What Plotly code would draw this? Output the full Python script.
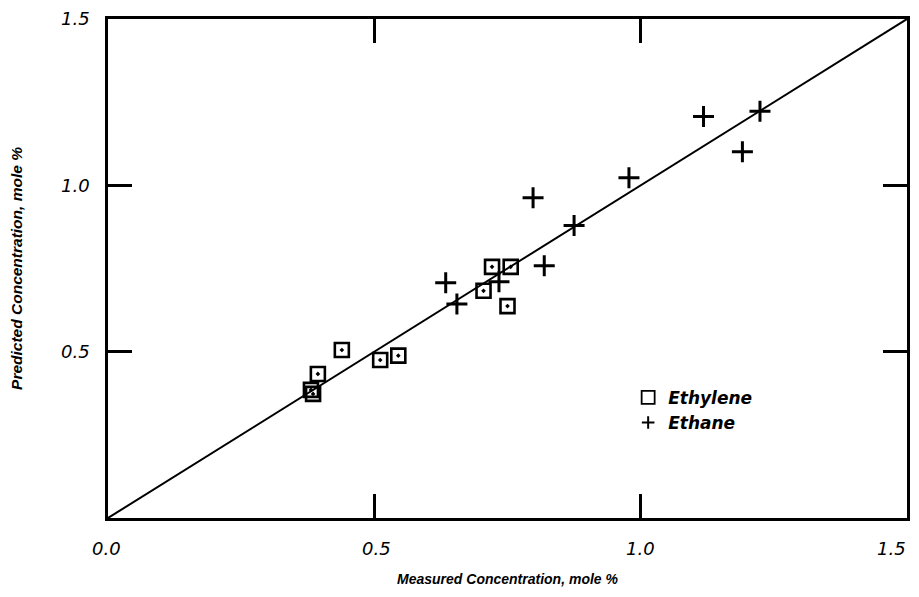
import plotly.graph_objects as go

# Ethylene (squares)
ethylene_measured = [0.381, 0.385, 0.394, 0.439, 0.511, 0.545, 0.705, 0.721, 0.756, 0.750]
ethylene_predicted = [0.385, 0.373, 0.433, 0.505, 0.475, 0.488, 0.683, 0.755, 0.755, 0.637]

# Ethane (crosses)
ethane_measured = [0.634, 0.655, 0.734, 0.798, 0.819, 0.875, 0.978, 1.118, 1.191, 1.224]
ethane_predicted = [0.707, 0.643, 0.710, 0.963, 0.758, 0.879, 1.023, 1.207, 1.101, 1.223]

# parity line
parity_x = [0.0, 1.5]
parity_y = [0.0, 1.5]

x_tickvals = [0.0, 0.5, 1.0, 1.5]
x_ticktext = ["0.0", "0.5", "1.0", "1.5"]
y_tickvals = [0.5, 1.0, 1.5]
y_ticktext = ["0.5", "1.0", "1.5"]

FONT = "Liberation Sans, Arial, sans-serif"
TICKFONT = "DejaVu Sans, sans-serif"

fig = go.Figure()
fig.add_trace(go.Scatter(x=parity_x, y=parity_y, mode="lines",
                         line=dict(color="black", width=2), showlegend=False,
                         hoverinfo="skip"))
fig.add_trace(go.Scatter(x=ethylene_measured, y=ethylene_predicted, mode="markers",
                         marker=dict(symbol="square-open-dot", size=14, color="black",
                                     line=dict(width=2.6, color="black")),
                         showlegend=False, name="Ethylene"))
fig.add_trace(go.Scatter(x=ethane_measured, y=ethane_predicted, mode="markers",
                         marker=dict(symbol="cross-thin", size=15, color="black",
                                     line=dict(width=3, color="black")),
                         showlegend=False, name="Ethane"))
# legend entries
fig.add_trace(go.Scatter(x=[None], y=[None], mode="markers", name="Ethylene",
                         marker=dict(symbol="square-open", size=13, color="black",
                                     line=dict(width=1.8, color="black"))))
fig.add_trace(go.Scatter(x=[None], y=[None], mode="markers", name="Ethane",
                         marker=dict(symbol="cross-thin", size=9, color="black",
                                     line=dict(width=2, color="black"))))

axis_common = dict(
    showline=True, linecolor="black", linewidth=2.5, mirror="ticks",
    ticks="inside", ticklen=24, tickwidth=2.5, tickcolor="black",
    showgrid=False, zeroline=False, range=[0, 1.5], automargin=False,
    tickfont=dict(family=TICKFONT, size=18, color="black", style="italic"),
)

# x tick labels as annotations so that edge labels sit inside the figure
x_label_shift = [-2, 2, 0, -16]
annotations = [
    dict(x=v, y=0, xref="x", yref="paper", text=t, showarrow=False,
         xanchor="center", yanchor="middle", yshift=-30, xshift=s,
         font=dict(family=TICKFONT, size=18, color="black", style="italic"))
    for v, t, s in zip(x_tickvals, x_ticktext, x_label_shift)
]

# the page body has an 8px margin, so the figure is sized to fit the window
fig.update_layout(
    width=911, height=589,
    margin=dict(l=100, r=12, t=11, b=79),
    paper_bgcolor="white", plot_bgcolor="white",
    font=dict(family=FONT, color="black"),
    annotations=annotations,
    xaxis=dict(**axis_common, tickmode="array", tickvals=x_tickvals,
               showticklabels=False,
               title=dict(text="Measured Concentration, mole %", standoff=55,
                          font=dict(family=FONT, size=14, color="black",
                                    style="italic", weight="bold"))),
    yaxis=dict(**axis_common, tickmode="array", tickvals=y_tickvals, ticktext=y_ticktext,
               ticklabelstandoff=12,
               title=dict(text="Predicted Concentration, mole %", standoff=36,
                          font=dict(family=FONT, size=15.5, color="black",
                                    style="italic", weight="bold"))),
    legend=dict(x=0.651, y=0.277, xanchor="left", yanchor="top",
                bgcolor="rgba(0,0,0,0)", tracegroupgap=0, itemwidth=30,
                font=dict(family=TICKFONT, size=17, color="black", style="italic",
                          weight="bold")),
)

fig.write_html("out.html")
